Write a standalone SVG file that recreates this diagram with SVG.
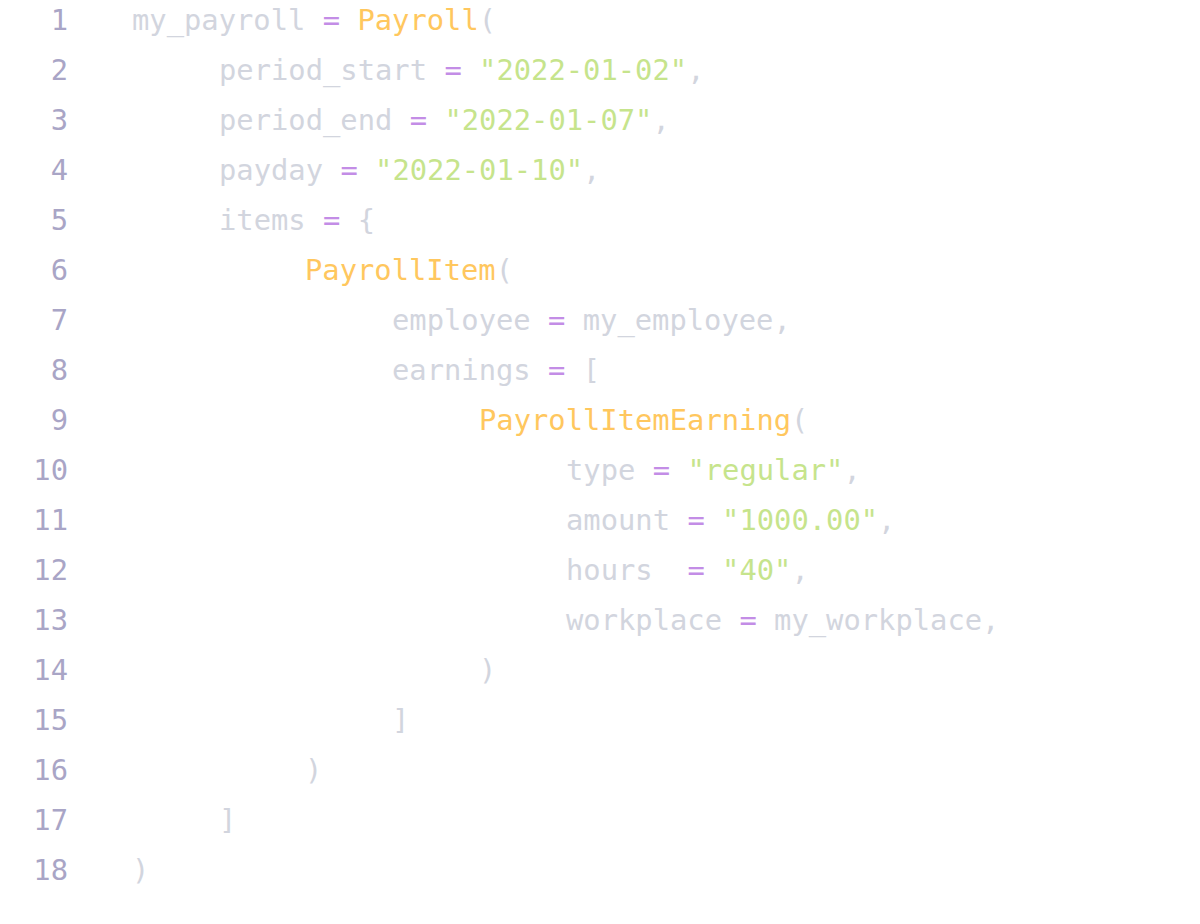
<svg xmlns="http://www.w3.org/2000/svg" width="1200" height="924" viewBox="0 0 1200 924">
<style>
text{font-family:"DejaVu Sans Mono",monospace;font-size:28.8px;white-space:pre}
.n{fill:#a9a5c6;text-anchor:end}
.c{fill:#d2d5de}
.o{fill:#c38de6}
.y{fill:#ffc75e}
.g{fill:#c6e48c}
</style>
<rect width="1200" height="924" fill="#ffffff"/>
<g id="numbers">
<text class="n" x="68" y="30">1</text><text class="n" x="68" y="80">2</text><text class="n" x="68" y="130">3</text>
<text class="n" x="68" y="180">4</text><text class="n" x="68" y="230">5</text><text class="n" x="68" y="280">6</text>
<text class="n" x="68" y="330">7</text><text class="n" x="68" y="380">8</text><text class="n" x="68" y="430">9</text>
<text class="n" x="68" y="480">10</text><text class="n" x="68" y="530">11</text><text class="n" x="68" y="580">12</text>
<text class="n" x="68" y="630">13</text><text class="n" x="68" y="680">14</text><text class="n" x="68" y="730">15</text>
<text class="n" x="68" y="780">16</text><text class="n" x="68" y="830">17</text><text class="n" x="68" y="880">18</text>
</g>
<g id="code" xml:space="preserve">
<text class="c" x="132" y="30">my_payroll <tspan class="o">=</tspan> <tspan class="y">Payroll</tspan>(</text>
<text class="c" x="219" y="80">period_start <tspan class="o">=</tspan> <tspan class="g">"2022-01-02"</tspan>,</text>
<text class="c" x="219" y="130">period_end <tspan class="o">=</tspan> <tspan class="g">"2022-01-07"</tspan>,</text>
<text class="c" x="219" y="180">payday <tspan class="o">=</tspan> <tspan class="g">"2022-01-10"</tspan>,</text>
<text class="c" x="219" y="230">items <tspan class="o">=</tspan> {</text>
<text class="c" x="305" y="280"><tspan class="y">PayrollItem</tspan>(</text>
<text class="c" x="392" y="330">employee <tspan class="o">=</tspan> my_employee,</text>
<text class="c" x="392" y="380">earnings <tspan class="o">=</tspan> [</text>
<text class="c" x="479" y="430"><tspan class="y">PayrollItemEarning</tspan>(</text>
<text class="c" x="566" y="480">type <tspan class="o">=</tspan> <tspan class="g">"regular"</tspan>,</text>
<text class="c" x="566" y="530">amount <tspan class="o">=</tspan> <tspan class="g">"1000.00"</tspan>,</text>
<text class="c" x="566" y="580">hours  <tspan class="o">=</tspan> <tspan class="g">"40"</tspan>,</text>
<text class="c" x="566" y="630">workplace <tspan class="o">=</tspan> my_workplace,</text>
<text class="c" x="479" y="680">)</text>
<text class="c" x="392" y="730">]</text>
<text class="c" x="305" y="780">)</text>
<text class="c" x="219" y="830">]</text>
<text class="c" x="132" y="880">)</text>
</g>
</svg>
